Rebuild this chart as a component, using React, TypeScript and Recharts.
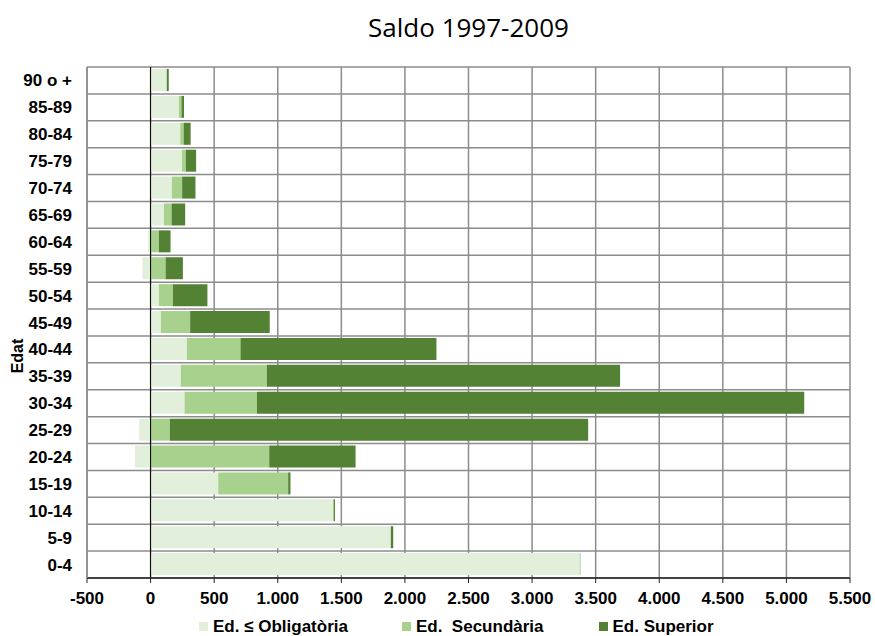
import {
  BarChart,
  Bar,
  XAxis,
  YAxis,
  CartesianGrid,
  Legend,
  ReferenceLine,
} from 'recharts';

// age groups, top to bottom as drawn
const ageGroups = [
  '90 o +', '85-89', '80-84', '75-79', '70-74', '65-69', '60-64', '55-59', '50-54', '45-49',
  '40-44', '35-39', '30-34', '25-29', '20-24', '15-19', '10-14', '5-9', '0-4',
];

const obligatoria = [125, 223, 233, 246, 167, 105, -21, -63, 65, 81, 285, 238, 267, -90, -123, 532, 1436, 1887, 3375];
const secundaria = [3, 20, 27, 31, 81, 60, 65, 118, 110, 230, 422, 676, 569, 152, 933, 550, 4, 3, 3];
const superior = [15, 20, 55, 81, 105, 107, 92, 136, 272, 626, 1541, 2778, 4304, 3289, 679, 18, 10, 18, 2];

const xTicks = [-500, 0, 500, 1000, 1500, 2000, 2500, 3000, 3500, 4000, 4500, 5000, 5500];

const seriesNames = ['Ed. \u2264 Obligatòria', 'Ed.\u00a0 Secundària', 'Ed. Superior'];
const colors = ['#e2efda', '#a9d18e', '#548235'];

const data = ageGroups.map((age, i) => ({
  age,
  obl: obligatoria[i],
  sec: secundaria[i],
  sup: superior[i],
}));

const fmt = (v: number) => String(v).replace(/\B(?=(\d{3})+(?!\d))/g, '.');

const font = 'Arial, "Liberation Sans", sans-serif';

function LegendContent() {
  return (
    <div style={{ height: 22, position: 'relative' }}>
      <div style={{ display: 'flex', position: 'absolute', left: 199, top: 3, fontFamily: font, fontWeight: 'bold', fontSize: 17, lineHeight: '19px', color: '#000', whiteSpace: 'pre' }}>
        {seriesNames.map((n, i) => (
          <div key={n} style={{ display: 'flex', alignItems: 'center', marginRight: i === 0 ? 54 : 55 }}>
            <span style={{ width: 9, height: 9, background: colors[i], marginRight: 5, display: 'inline-block' }} />
            <span>{n}</span>
          </div>
        ))}
      </div>
    </div>
  );
}

export default function App() {
  return (
    <div style={{ position: 'absolute', left: 0, top: 0, width: 875, height: 636, background: '#fff', overflow: 'hidden' }}>
      <div style={{ position: 'absolute', left: 87, top: 14, width: 763, textAlign: 'center', fontFamily: '"Open Sans", sans-serif', fontSize: 26, lineHeight: 1, color: '#000', zIndex: 2 }}>
        Saldo 1997-2009
      </div>
      <BarChart
        width={875}
        height={636}
        data={data}
        layout="vertical"
        stackOffset="sign"
        barSize={22}
        margin={{ top: 67, right: 25, bottom: 0, left: 17 }}
      >
        <CartesianGrid
          stroke="#8c8c8c"
          strokeWidth={1.5}
          horizontalCoordinatesGenerator={({ offset }: any) =>
            Array.from({ length: ageGroups.length + 1 }, (_, i) => offset.top + (i * offset.height) / ageGroups.length)
          }
        />
        <XAxis
          type="number"
          domain={[-500, 5500]}
          ticks={xTicks}
          tickFormatter={fmt}
          interval={0}
          height={36}
          axisLine={{ stroke: '#222', strokeWidth: 1.5 }}
          tickLine={{ stroke: '#222' }}
          tickSize={5}
          tickMargin={9}
          tick={{ fill: '#000', fontFamily: font, fontWeight: 'bold', fontSize: 17 }}
        />
        <YAxis
          type="category"
          dataKey="age"
          width={70}
          interval={0}
          axisLine={{ stroke: '#8c8c8c', strokeWidth: 1.5 }}
          tickLine={false}
          tickSize={6}
          tickMargin={9}
          tick={{ fill: '#000', fontFamily: font, fontWeight: 'bold', fontSize: 17 }}
          label={{
            content: () => (
              <text x={23} y={356} transform="rotate(-90 23 356)" textAnchor="middle" fontFamily={font} fontWeight="bold" fontSize={16} fill="#000">
                Edat
              </text>
            ),
          }}
        />
        <Legend verticalAlign="bottom" content={<LegendContent />} wrapperStyle={{ left: 0, width: 875 }} />
        <Bar dataKey="obl" name={seriesNames[0]} stackId="a" fill={colors[0]} isAnimationActive={false} />
        <Bar dataKey="sec" name={seriesNames[1]} stackId="a" fill={colors[1]} isAnimationActive={false} />
        <Bar dataKey="sup" name={seriesNames[2]} stackId="a" fill={colors[2]} isAnimationActive={false} />
        <ReferenceLine x={0} stroke="#000" strokeWidth={1} />
      </BarChart>
    </div>
  );
}
